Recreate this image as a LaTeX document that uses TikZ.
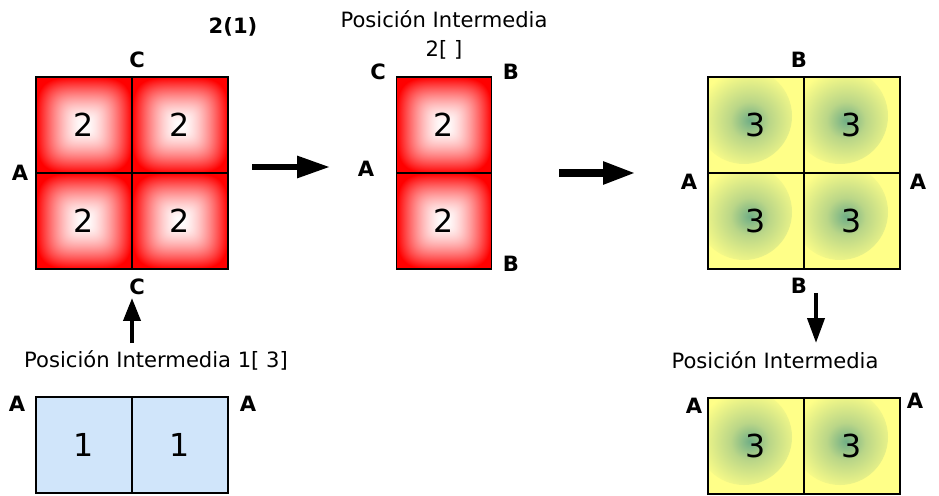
\documentclass[tikz,border=0pt]{standalone}
\usepackage{fontspec}
\setmainfont{DejaVu Sans}
\usetikzlibrary{arrows.meta}
\definecolor{cellyellow}{RGB}{255,255,136}
\definecolor{spotgreen}{RGB}{112,174,134}
\definecolor{spotmid}{RGB}{186,214,136}
\definecolor{cellblue}{RGB}{208,229,250}
% rounded square gradient, white centre to red border
\pgfdeclarefunctionalshading{redsquare}{\pgfpoint{-50bp}{-50bp}}{\pgfpoint{50bp}{50bp}}{}{
  abs 25 div dup mul dup mul exch abs 25 div dup mul dup mul add 0.25 exp
  dup 1 gt {pop 1} if 1.6 exp
  1 exch sub dup 1 3 1 roll
}
\pgfdeclareradialshading{greenspot}{\pgfpoint{0bp}{0bp}}{color(0bp)=(spotgreen); color(9bp)=(spotmid); color(25bp)=(cellyellow); color(50bp)=(cellyellow)}
\begin{document}
\begin{tikzpicture}[x=0.02cm, y=-0.02cm]
    \tikzset{cell/.style={draw, line width=0.6pt, inner sep=0pt, minimum width=1.92cm, minimum height=1.92cm, font=\fontsize{18}{20}\selectfont},
      red cell/.style={cell, shade, shading=redsquare},
      yellow cell/.style={cell, fill=cellyellow, path picture={\shade[shading=greenspot] ([shift={(-12,-9)}]path picture bounding box.center) circle (48);}},
      blue cell/.style={cell, fill=cellblue},
      side label/.style={font=\fontsize{12}{14}\selectfont\bfseries},
      caption/.style={font=\fontsize{12}{14}\selectfont},
      big arrow/.style={-{Triangle[length=0.66cm, width=0.42cm]}}}
    \useasboundingbox (0,0) rectangle (939,496);
    
    % Left - red 2x2 square
    \node[side label] (title) at (233,27) {2(1)};
    \node[red cell] (r11) at (84,125) {2};
    \node[red cell] (r12) at (180,125) {2};
    \node[red cell] (r21) at (84,221) {2};
    \node[red cell] (r22) at (180,221) {2};
    \node[side label] (r_top) at (137,60) {C};
    \node[side label] (r_left) at (20,173) {A};
    \node[side label] (r_bottom) at (137,287) {C};
    
    % Left bottom - blue intermediate position
    \node[caption] (blue_text) at (156,360) {Posición Intermedia 1[ 3]};
    \node[blue cell] (b1) at (84,445) {1};
    \node[blue cell] (b2) at (180,445) {1};
    \node[side label] (b_left) at (17,404) {A};
    \node[side label] (b_right) at (248,404) {A};
    
    % Arrow up from blue to red
    \coordinate (up_start) at (132,343);
    \coordinate (up_end) at (132,298);
    \draw[line width=0.08cm, -{Triangle[length=0.46cm, width=0.34cm]}] (up_start) -- (up_end);
    
    % Middle - red 1x2 intermediate position
    \node[caption] (mid_text) at (444,19) {Posición Intermedia};
    \node[caption] (mid_sub) at (444,50) {2[ ]};
    \node[red cell, minimum width=1.9cm] (m1) at (444,125) {2};
    \node[red cell, minimum width=1.9cm] (m2) at (444,221) {2};
    \node[side label] (m_c) at (378,72) {C};
    \node[side label] (m_b1) at (511,72) {B};
    \node[side label] (m_a) at (366,169) {A};
    \node[side label] (m_b2) at (511,264) {B};
    
    % Horizontal arrows
    \coordinate (arr1_start) at (252,167);
    \coordinate (arr1_end) at (330,167);
    \draw[big arrow, line width=0.12cm] (arr1_start) -- (arr1_end);
    \coordinate (arr2_start) at (559,173);
    \coordinate (arr2_end) at (636,173);
    \draw[big arrow, line width=0.16cm] (arr2_start) -- (arr2_end);
    
    % Right - yellow 2x2 square
    \node[yellow cell] (y11) at (756,125) {3};
    \node[yellow cell] (y12) at (852,125) {3};
    \node[yellow cell] (y21) at (756,221) {3};
    \node[yellow cell] (y22) at (852,221) {3};
    \node[side label] (y_top) at (799,60) {B};
    \node[side label] (y_left) at (689,182) {A};
    \node[side label] (y_right) at (918,182) {A};
    \node[side label] (y_bottom) at (799,286) {B};
    
    % Arrow down to yellow intermediate position
    \coordinate (down_start) at (816,293);
    \coordinate (down_end) at (816,343);
    \draw[line width=0.08cm, -{Triangle[length=0.5cm, width=0.34cm]}] (down_start) -- (down_end);
    
    % Right bottom - yellow 1x2
    \node[caption] (low_text) at (775,360) {Posición Intermedia};
    \node[yellow cell] (l1) at (756,446) {3};
    \node[yellow cell] (l2) at (852,446) {3};
    \node[side label] (l_left) at (694,406) {A};
    \node[side label] (l_right) at (915,401) {A};
  \end{tikzpicture}
\end{document}
